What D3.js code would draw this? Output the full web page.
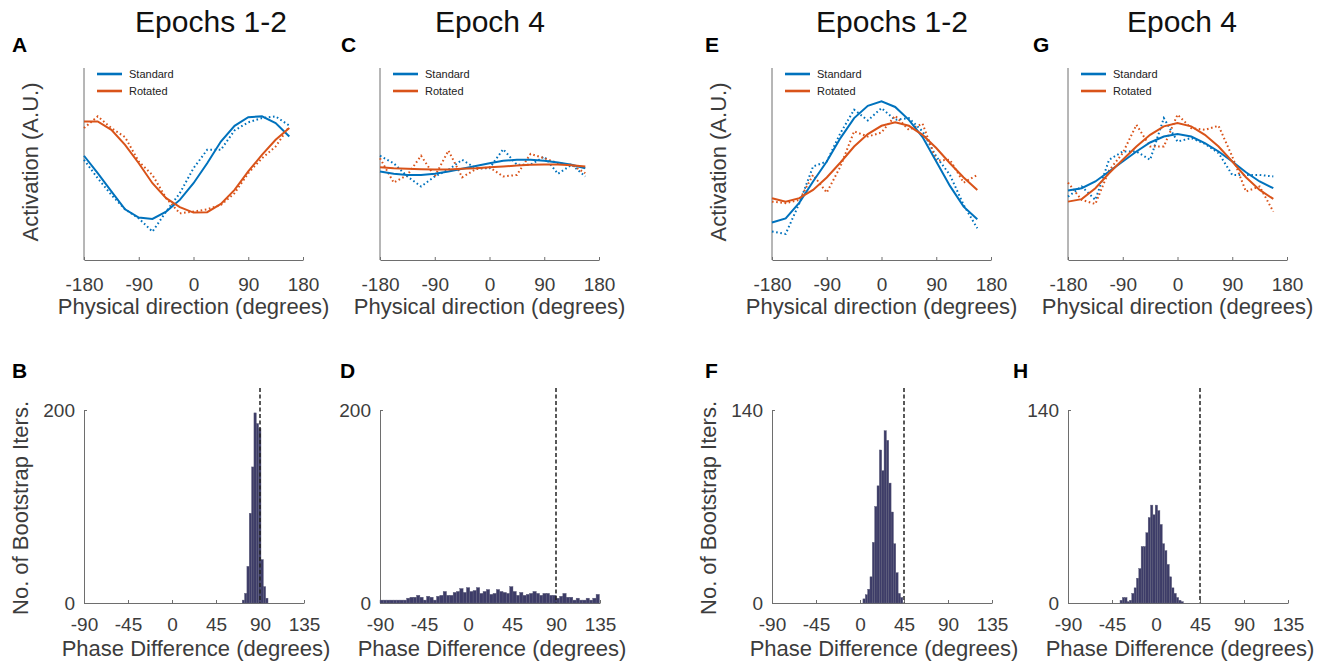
<!DOCTYPE html>
<html>
<head>
<meta charset="utf-8">
<script src="https://cdn.jsdelivr.net/npm/d3@7"></script>
<style>
body { margin: 0; background: #fff; }
svg { font-family: "Liberation Sans", Arial, Helvetica, sans-serif; }
</style>
</head>
<body>
<svg id="fig" width="1331" height="663"></svg>
<script>
// physical directions sampled (degrees)
var angles = [-180, -157.5, -135, -112.5, -90, -67.5, -45, -22.5, 0, 22.5, 45, 67.5, 90, 112.5, 135, 157.5];
var dirTicks = [-180, -90, 0, 90, 180];
var phaseTicks = [-90, -45, 0, 45, 90, 135];

// activation (A.U.), solid = fit, dotted = raw
// A : epochs 1-2, left model
var stdFitA = [54.3, 45.2, 35.7, 26.4, 22.1, 21.4, 25.2, 31.3, 40.0, 50.4, 61.7, 69.9, 74.4, 74.8, 71.3, 64.3];
var stdRawA = [52.2, 42.6, 33.9, 26.4, 21.7, 14.8, 25.2, 34.8, 47.8, 57.4, 57.4, 67.5, 71.7, 73.9, 74.8, 70.0];
var rotFitA = [72.2, 72.2, 67.8, 60.0, 50.4, 40.0, 32.2, 27.5, 24.7, 24.9, 29.2, 36.5, 46.1, 54.8, 62.6, 68.7];
var rotRawA = [68.7, 74.8, 68.7, 64.0, 51.3, 44.3, 32.2, 24.3, 25.2, 26.4, 28.7, 34.8, 45.2, 53.0, 59.1, 69.6];
// C : epoch 4
var stdFitC = [46.1, 44.9, 44.3, 44.3, 44.9, 46.1, 47.5, 49.0, 50.4, 51.7, 52.2, 52.2, 51.7, 50.8, 49.6, 47.8];
var stdRawC = [54.3, 50.4, 43.5, 38.3, 43.5, 47.0, 52.2, 47.8, 47.8, 57.7, 49.6, 49.6, 53.9, 44.9, 49.6, 43.5];
var rotFitC = [48.3, 47.8, 47.5, 47.3, 47.1, 47.1, 47.5, 47.8, 48.3, 48.7, 49.2, 49.6, 49.7, 49.7, 49.4, 48.7];
var rotRawC = [53.0, 40.3, 44.3, 54.3, 43.5, 57.0, 43.1, 47.3, 48.3, 43.5, 44.3, 55.3, 53.0, 50.4, 49.6, 45.2];
// E : epochs 1-2, right model
var stdFitE = [19.5, 21.7, 29.9, 40.9, 51.3, 63.5, 73.9, 80.3, 82.6, 79.7, 73.0, 64.0, 51.3, 38.6, 27.8, 21.2];
var stdRawE = [14.8, 13.6, 29.6, 48.7, 51.3, 66.1, 78.3, 72.7, 79.1, 73.0, 73.9, 67.0, 53.9, 44.3, 28.7, 16.5];
var rotFitE = [32.2, 30.4, 32.2, 36.5, 43.0, 50.8, 59.1, 65.6, 69.9, 71.7, 69.9, 65.2, 58.3, 50.4, 43.0, 36.5];
var rotRawE = [30.4, 29.6, 31.3, 44.3, 35.1, 48.7, 67.0, 64.3, 66.4, 75.1, 67.8, 71.0, 51.8, 52.2, 40.3, 44.3];
// G : epoch 4
var stdFitG = [36.2, 37.4, 40.9, 46.1, 51.3, 56.5, 61.2, 64.3, 65.6, 64.3, 60.9, 56.5, 51.3, 45.7, 40.9, 37.4];
var stdRawG = [33.0, 38.3, 31.3, 52.2, 56.5, 56.5, 52.2, 73.9, 61.7, 63.5, 60.5, 55.7, 44.3, 44.3, 44.3, 43.5];
var rotFitG = [30.4, 31.7, 37.4, 45.2, 52.2, 59.1, 65.2, 69.6, 71.3, 69.6, 65.2, 59.1, 51.3, 43.1, 36.5, 31.8];
var rotRawG = [40.3, 31.3, 29.2, 46.6, 55.7, 70.4, 59.1, 59.1, 75.7, 68.7, 67.8, 69.9, 53.9, 35.7, 38.3, 25.2];

// bootstrap histograms of phase difference: first bin edge, bin width, counts
var binStartB = 71.8, binWidthB = 2.4;
var countsB = [3, 10, 38, 93, 141, 197, 186, 181, 45, 17, 5];
var binStartD = -90, binWidthD = 3.4;
var countsD = [3, 3, 3, 3, 3, 3, 3, 3, 5, 6, 6, 8, 6, 3, 7, 6, 3, 7, 8, 12, 8, 8, 11, 12, 15, 11, 16, 12, 13, 16, 10, 12, 14,
               9, 10, 14, 12, 11, 10, 17, 12, 8, 11, 8, 9, 10, 12, 10, 8, 10, 10, 8, 8, 5, 7, 10, 6, 6, 3, 5, 3, 3, 5, 3, 5, 9];
var binStartF = 3.0, binWidthF = 2.4;
var countsF = [3, 6, 10, 19, 44, 70, 85, 111, 96, 125, 118, 87, 66, 43, 22, 7, 4];
var binStartH = -36.8, binWidthH = 2.4;
var countsH = [2, 4, 4, 1, 2, 7, 11, 18, 25, 41, 41, 51, 62, 71, 64, 71, 67, 57, 43, 38, 28, 19, 11, 7, 4, 2, 1];

var seriesNames = ["Standard", "Rotated"];
var colors = {Standard: "#0072BD", Rotated: "#D95319"};

var svg = d3.select("#fig");
svg.append("rect").attr("width", 1331).attr("height", 663).attr("fill", "#fff");

var axisColor = "#6e6e6e";
var textColor = "#3c3c3c";

// plain hyphen for negatives, like the original figure
var plainFmt = d => String(d);

function styleAxis(g, fs) {
    g.select(".domain").attr("stroke", axisColor);
    g.selectAll(".tick line").attr("stroke", axisColor);
    g.selectAll(".tick text").attr("fill", textColor).style("font-size", fs + "px").style("font-family", "Liberation Sans, Arial, sans-serif");
}

// top row: tuning curves
function tuningPanel(left, stdFit, stdRaw, rotFit, rotRaw) {
    var x = d3.scaleLinear().domain([-180, 180]).range([left, left + 219]);
    var y = d3.scaleLinear().domain([0, 100]).range([260, 68]);
    var g = svg.append("g");

    g.append("line").attr("x1", left).attr("x2", left).attr("y1", y(100)).attr("y2", y(0))
        .attr("stroke", axisColor).attr("stroke-width", 1);

    var xAxis = g.append("g").attr("transform", "translate(0,260)")
        .call(d3.axisBottom(x).tickValues(dirTicks).tickFormat(plainFmt).tickSize(-3).tickSizeOuter(0).tickPadding(18));
    styleAxis(xAxis, 19);

    g.append("text").attr("x", left + 109.5).attr("y", 314).attr("text-anchor", "middle")
        .attr("fill", textColor).style("font-size", "22px").text("Physical direction (degrees)");

    var line = d3.line().x((d, i) => x(angles[i])).y(d => y(d));

    [[stdRaw, "Standard"], [rotRaw, "Rotated"]].forEach(function(s) {
        g.append("path").attr("d", line(s[0])).attr("fill", "none")
            .attr("stroke", colors[s[1]]).attr("stroke-width", 2).attr("stroke-dasharray", "1.6,2.6");
    });
    [[stdFit, "Standard"], [rotFit, "Rotated"]].forEach(function(s) {
        g.append("path").attr("d", line(s[0])).attr("fill", "none")
            .attr("stroke", colors[s[1]]).attr("stroke-width", 2);
    });

    // legend
    seriesNames.forEach(function(name, i) {
        var ly = 74 + i * 17;
        g.append("line").attr("x1", left + 13).attr("x2", left + 38).attr("y1", ly).attr("y2", ly)
            .attr("stroke", colors[name]).attr("stroke-width", 2.6);
        g.append("text").attr("x", left + 45).attr("y", ly + 4).attr("fill", "#222")
            .style("font-size", "11px").text(name);
    });
}

// bottom row: bootstrap histograms
function histPanel(left, binStart, binWidth, counts, ymax, dashAt) {
    var x = d3.scaleLinear().domain([-90, 135]).range([left, left + 220]);
    var y = d3.scaleLinear().domain([0, ymax]).range([603, 410]);
    var g = svg.append("g");

    var xAxis = g.append("g").attr("transform", "translate(0,603)")
        .call(d3.axisBottom(x).tickValues(phaseTicks).tickFormat(plainFmt).tickSize(-3).tickSizeOuter(0).tickPadding(15));
    styleAxis(xAxis, 19);

    var yAxis = g.append("g").attr("transform", `translate(${left},0)`)
        .call(d3.axisLeft(y).tickValues([0, ymax]).tickFormat(plainFmt).tickSize(-3).tickSizeOuter(0).tickPadding(9));
    styleAxis(yAxis, 19);

    g.append("text").attr("x", left + 112).attr("y", 656).attr("text-anchor", "middle")
        .attr("fill", textColor).style("font-size", "22px").text("Phase Difference (degrees)");

    g.append("g").selectAll("rect").data(counts).enter().append("rect")
        .attr("x", (d, i) => x(binStart + i * binWidth))
        .attr("width", (d, i) => x(binStart + (i + 1) * binWidth) - x(binStart + i * binWidth))
        .attr("y", d => y(d))
        .attr("height", d => y(0) - y(d))
        .attr("fill", "#3d3c68").attr("stroke", "#5c5c78").attr("stroke-width", 0.4);

    g.append("line").attr("x1", x(dashAt)).attr("x2", x(dashAt)).attr("y1", 388).attr("y2", 603)
        .attr("stroke", "#222").attr("stroke-width", 1.5).attr("stroke-dasharray", "4,2.5");
}

tuningPanel(84, stdFitA, stdRawA, rotFitA, rotRawA);
tuningPanel(380, stdFitC, stdRawC, rotFitC, rotRawC);
tuningPanel(772, stdFitE, stdRawE, rotFitE, rotRawE);
tuningPanel(1068, stdFitG, stdRawG, rotFitG, rotRawG);

histPanel(84, binStartB, binWidthB, countsB, 200, 90);
histPanel(380, binStartD, binWidthD, countsD, 200, 90);
histPanel(772, binStartF, binWidthF, countsF, 140, 45);
histPanel(1068, binStartH, binWidthH, countsH, 140, 45);

// y axis titles
[[38, 162, "Activation (A.U.)"], [726, 162, "Activation (A.U.)"],
 [28, 508, "No. of Bootstrap Iters."], [716, 508, "No. of Bootstrap Iters."]].forEach(function(t) {
    svg.append("text").attr("transform", `translate(${t[0]},${t[1]}) rotate(-90)`)
        .attr("text-anchor", "middle").attr("fill", textColor).style("font-size", "22px").text(t[2]);
});

// column titles
[[211, "Epochs 1-2"], [490, "Epoch 4"], [892, "Epochs 1-2"], [1182, "Epoch 4"]].forEach(function(t) {
    svg.append("text").attr("x", t[0]).attr("y", 32).attr("text-anchor", "middle")
        .attr("fill", "#111").style("font-size", "30px").text(t[1]);
});

// panel letters
[["A", 12, 52], ["B", 12, 378], ["C", 341, 52], ["D", 340, 378],
 ["E", 705, 52], ["F", 705, 378], ["G", 1033, 52], ["H", 1013, 378]].forEach(function(p) {
    svg.append("text").attr("x", p[1]).attr("y", p[2]).attr("fill", "#000")
        .style("font-size", "21px").style("font-weight", "bold").text(p[0]);
});
</script>
</body>
</html>
